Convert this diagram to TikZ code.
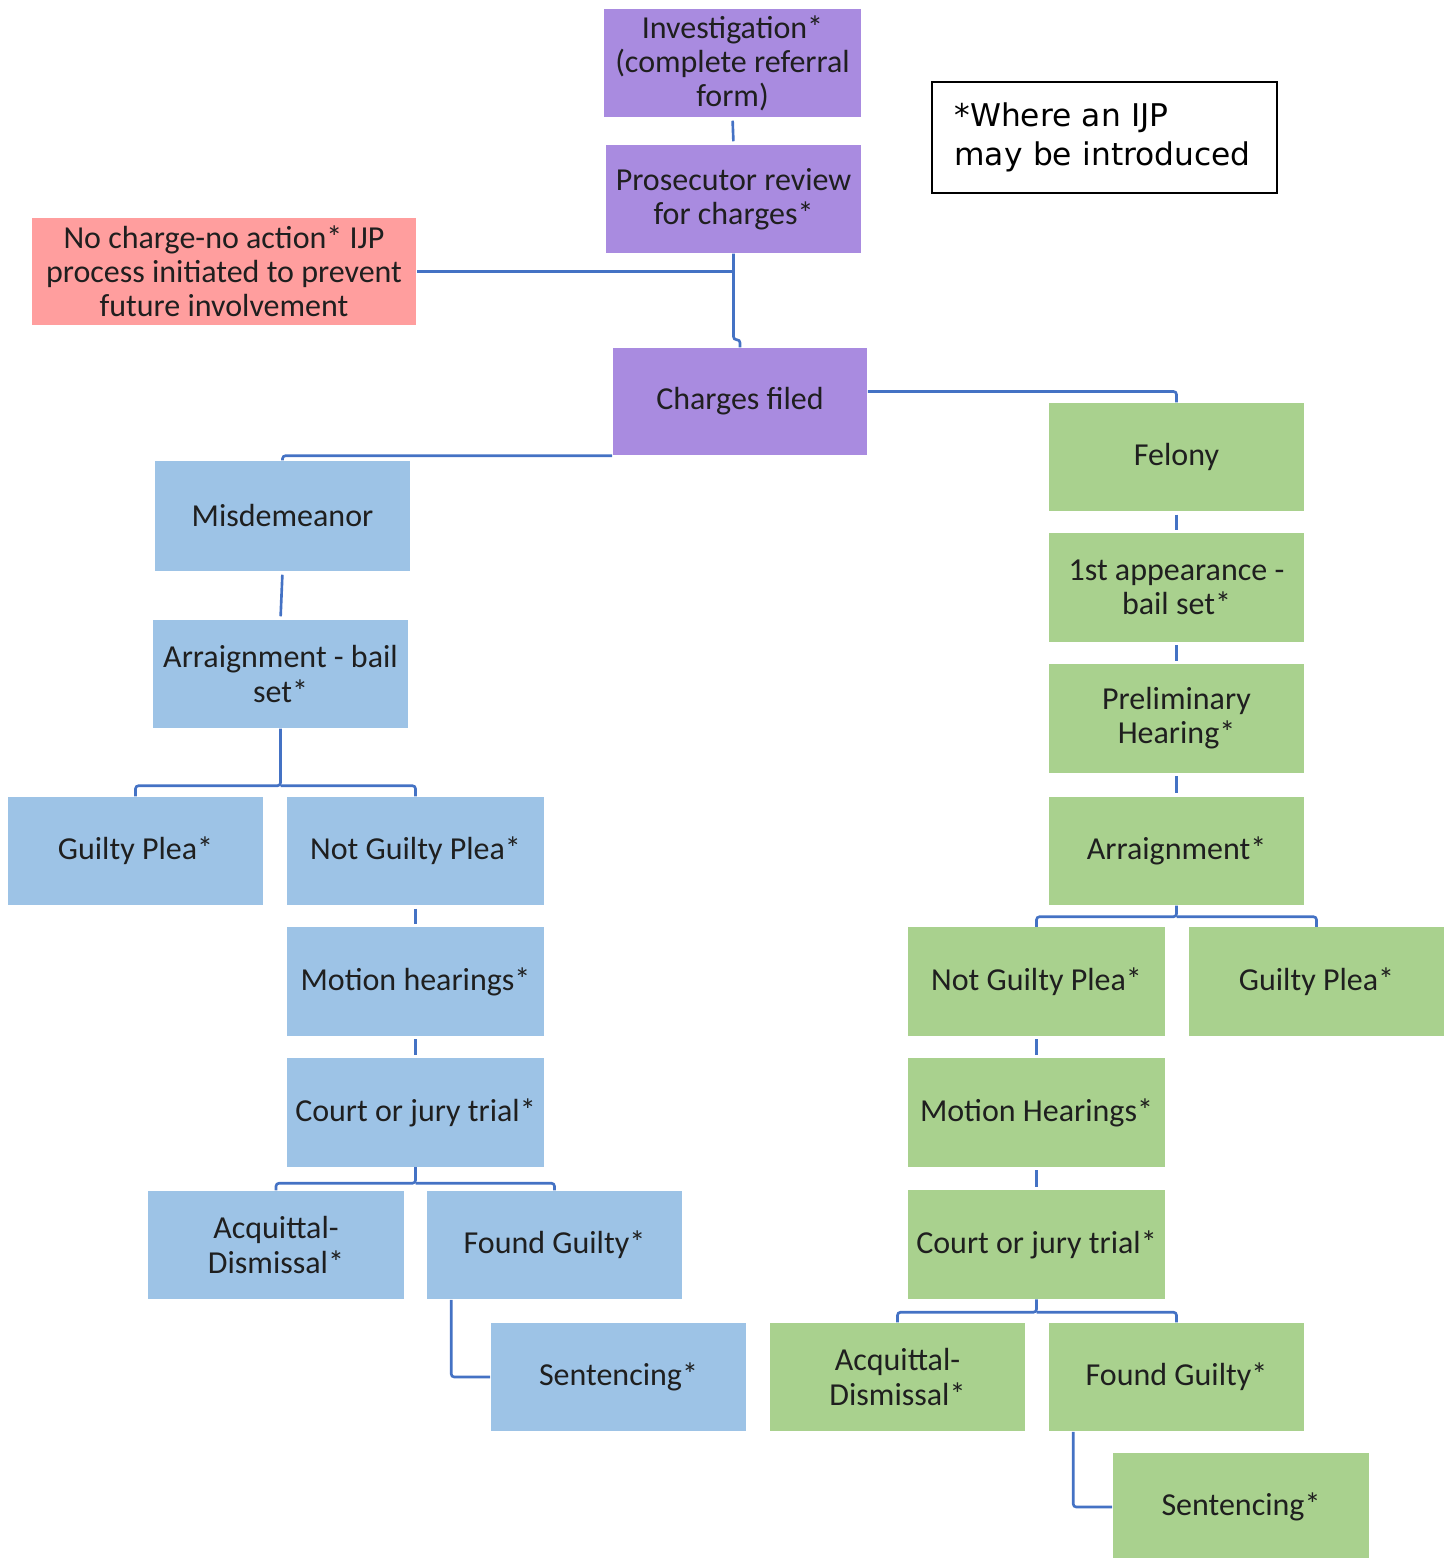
\documentclass[tikz,border=0pt]{standalone}
\usepackage{fontspec}
\setmainfont{Carlito}
\newfontfamily\notefont{DejaVu Sans}
\usepackage{tikz}
\definecolor{Box-purple}{RGB}{169,139,224}
\definecolor{Box-blue}{RGB}{157,195,230}
\definecolor{Box-green}{RGB}{169,209,142}
\definecolor{Box-red}{RGB}{255,158,158}
\definecolor{Link-blue}{RGB}{68,114,196}

\begin{document}
\begin{tikzpicture}[x=0.01cm, y=-0.01cm]
    \tikzset{ stg/.style ={rectangle, inner sep=0pt, minimum width=2.55cm, minimum height=1.08cm, align=center, text=black!88, font=\fontsize{9.1}{9.7}\selectfont} }
    \tikzset{ prp/.style ={stg, fill=Box-purple} }
    \tikzset{ blu/.style ={stg, fill=Box-blue} }
    \tikzset{ grn/.style ={stg, fill=Box-green} }
    \tikzset{ lnk/.style ={draw=Link-blue, line width=0.75pt, rounded corners=0.03cm} }
    \tikzset{ gap/.style ={shorten <=0.03cm, shorten >=0.03cm} }

    \useasboundingbox (0,0) rectangle (1454,1558);

    % top of the flow
    \node[prp, minimum width=2.57cm] (inv)  at (732.5, 63)  {Investigation*\\(complete referral\\form)};
    \node[prp] (pros) at (733.5, 199) {Prosecutor review\\for charges*};
    \node[stg, fill=Box-red, minimum width=3.84cm, minimum height=1.07cm] (nochg) at (224, 271.5) {No charge-no action* IJP\\process initiated to prevent\\future involvement};
    \node[prp, minimum width=2.54cm, minimum height=1.07cm] (chg) at (740, 401.5) {Charges filed};
    \node[draw=black, line width=0.6pt, inner xsep=0.225cm, inner ysep=0pt, text width=3.0cm, minimum height=1.11cm, align=left, font=\notefont\fontsize{8.9}{11}\selectfont] (note) at (1104.5, 137.5) {*Where an IJP\\may be introduced};

    % felony branch
    \node[grn] (fel)  at (1176.5, 457)   {Felony};
    \node[grn] (fapp) at (1176.5, 587.5) {1st appearance -\\bail set*};
    \node[grn] (fpre) at (1176.5, 718.5) {Preliminary\\Hearing*};
    \node[grn] (farr) at (1176.5, 851)   {Arraignment*};
    \node[grn, minimum width=2.57cm] (fngp) at (1036.5, 981.5)  {Not Guilty Plea*};
    \node[grn] (fgp)  at (1316.5, 981.5)  {Guilty Plea*};
    \node[grn, minimum width=2.57cm] (fmot) at (1036.5, 1112.5) {Motion Hearings*};
    \node[grn, minimum width=2.57cm] (ftri) at (1036.5, 1244.5) {Court or jury trial*};
    \node[grn] (facq) at (897.5, 1377)   {Acquittal-\\Dismissal*};
    \node[grn] (ffg)  at (1176.5, 1377)  {Found Guilty*};
    \node[grn, minimum width=2.56cm] (fsen) at (1241, 1507) {Sentencing*};

    % misdemeanor branch
    \node[blu, minimum height=1.1cm] (misd) at (282.5, 516) {Misdemeanor};
    \node[blu] (marr) at (280.5, 674)  {Arraignment - bail\\set*};
    \node[blu] (mgp)  at (135.5, 851)  {Guilty Plea*};
    \node[blu, minimum width=2.57cm] (mngp) at (415.5, 851)   {Not Guilty Plea*};
    \node[blu, minimum width=2.57cm] (mmot) at (415.5, 981.5) {Motion hearings*};
    \node[blu, minimum width=2.57cm] (mtri) at (415.5, 1112.5) {Court or jury trial*};
    \node[blu] (macq) at (276, 1245)   {Acquittal-\\Dismissal*};
    \node[blu] (mfg)  at (554.5, 1245) {Found Guilty*};
    \node[blu] (msen) at (618.5, 1377) {Sentencing*};

    \draw[lnk, gap] (inv.south) -- (pros.north);
    \draw[lnk] (pros.south) -- ++(0,86) -| (chg.north);
    \draw[lnk] (nochg.east) -- (nochg.east -| pros.south);
    \draw[lnk] ([yshift=0.1cm]chg.east) -| (fel.north);
    \draw[lnk] (chg.south west) -| (misd.north);

    \draw[lnk, gap] (fel.south)  -- (fapp.north);
    \draw[lnk, gap] (fapp.south) -- (fpre.north);
    \draw[lnk, gap] (fpre.south) -- (farr.north);
    \draw[lnk] (farr.south) -- ++(0,11) -| (fngp.north);
    \draw[lnk] (farr.south)    ++(0,11) -| (fgp.north);
    \draw[lnk, gap] (fngp.south) -- (fmot.north);
    \draw[lnk, gap] (fmot.south) -- (ftri.north);
    \draw[lnk] (ftri.south) -- ++(0,13) -| (facq.north);
    \draw[lnk] (ftri.south)    ++(0,13) -| (ffg.north);
    \draw[lnk] ([xshift=0.25cm]ffg.south west) |- (fsen.west);

    \draw[lnk, gap] (misd.south) -- (marr.north);
    \draw[lnk] (marr.south) -- ++(0,57) -| (mgp.north);
    \draw[lnk] (marr.south)    ++(0,57) -| (mngp.north);
    \draw[lnk, gap] (mngp.south) -- (mmot.north);
    \draw[lnk, gap] (mmot.south) -- (mtri.north);
    \draw[lnk] (mtri.south) -- ++(0,16) -| (macq.north);
    \draw[lnk] (mtri.south)    ++(0,16) -| (mfg.north);
    \draw[lnk] ([xshift=0.25cm]mfg.south west) |- (msen.west);

\end{tikzpicture}
\end{document}
